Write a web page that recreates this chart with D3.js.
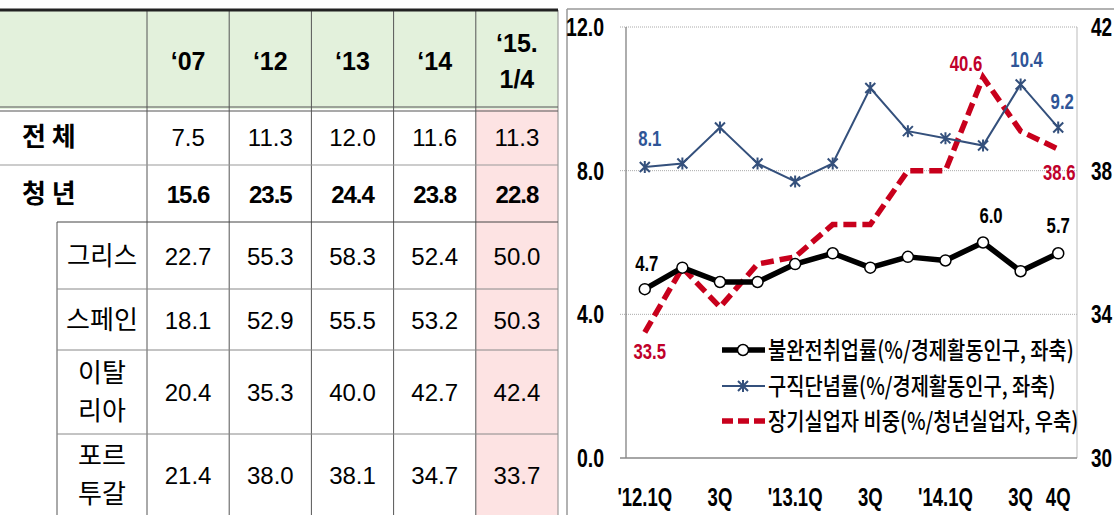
<!DOCTYPE html>
<html>
<head>
<meta charset="utf-8">
<script src="https://cdn.jsdelivr.net/npm/d3@7"></script>
<style>
body { margin: 0; background: #fff; }
svg { display: block; }
</style>
</head>
<body>
<div id="root"></div>
<script>
const width = 1114;
const height = 515;

// ---- table data
const tableCols = ["‘07", "‘12", "‘13", "‘14", "‘15.|1/4"];
const tableRows = ["전 체", "청 년", "그리스", "스페인", "이탈|리아", "포르|투갈"];
const totalRate = [7.5, 11.3, 12.0, 11.6, 11.3];
const youthRate = [15.6, 23.5, 24.4, 23.8, 22.8];
const greeceRate = [22.7, 55.3, 58.3, 52.4, 50.0];
const spainRate = [18.1, 52.9, 55.5, 53.2, 50.3];
const italyRate = [20.4, 35.3, 40.0, 42.7, 42.4];
const portugalRate = [21.4, 38.0, 38.1, 34.7, 33.7];

// ---- chart data
const quarters = ["'12.1Q", "'12.2Q", "'12.3Q", "'12.4Q", "'13.1Q", "'13.2Q",
                  "'13.3Q", "'13.4Q", "'14.1Q", "'14.2Q", "'14.3Q", "'14.4Q"];
const quarterLabels = ["'12.1Q", "", "3Q", "", "'13.1Q", "", "3Q", "", "'14.1Q", "", "3Q", "4Q"];
const underemployment = [4.7, 5.3, 4.9, 4.9, 5.4, 5.7, 5.3, 5.6, 5.5, 6.0, 5.2, 5.7];
const discouraged = [8.1, 8.2, 9.2, 8.2, 7.7, 8.2, 10.3, 9.1, 8.9, 8.7, 10.4, 9.2];
const longTermShare = [33.5, 35.3, 34.2, 35.4, 35.6, 36.5, 36.5, 38.0, 38.0, 40.6, 39.1, 38.6];
const leftTicks = [0, 4, 8, 12];
const rightTicks = [30, 34, 38, 42];
const legendNames = ["불완전취업률(%/경제활동인구, 좌축)", "구직단념률(%/경제활동인구, 좌축)", "장기실업자 비중(%/청년실업자, 우축)"];

const svg = d3.select("#root").append("svg")
	.attr("width", width)
	.attr("height", height);

// squeeze text horizontally, the source fonts are narrow
function condense(sel, k) {
	sel.each(function() {
		const len = this.getComputedTextLength();
		d3.select(this).attr("textLength", len * k).attr("lengthAdjust", "spacingAndGlyphs");
	});
}

// ================= TABLE =================
const tableRight = 558;
const rowEdges = [10, 109, 165, 222, 289, 350, 434, 515];
const indentX = 57;
const tableValues = [totalRate, youthRate, greeceRate, spainRate, italyRate, portugalRate];

const colX = d3.scaleBand()
	.domain(tableCols)
	.range([147, tableRight]);

const table = svg.append("g").attr("class", "table");

// fills
table.append("rect")
	.attr("x", 0).attr("y", rowEdges[0])
	.attr("width", tableRight).attr("height", rowEdges[1] - rowEdges[0])
	.style("fill", "#e3f1dc");
table.append("rect")
	.attr("x", colX(tableCols[4])).attr("y", rowEdges[1])
	.attr("width", colX.bandwidth()).attr("height", height - rowEdges[1])
	.style("fill", "#fde3e3");

// vertical lines
table.selectAll(".vline")
	.data(tableCols).enter()
	.append("line")
		.attr("x1", d => colX(d)).attr("x2", d => colX(d))
		.attr("y1", rowEdges[0]).attr("y2", height)
		.style("stroke", "#555").style("stroke-width", 1);
table.append("line")
	.attr("x1", tableRight).attr("x2", tableRight)
	.attr("y1", rowEdges[0]).attr("y2", height)
	.style("stroke", "#888").style("stroke-width", 1);
table.append("line")
	.attr("x1", indentX).attr("x2", indentX)
	.attr("y1", rowEdges[3]).attr("y2", height)
	.style("stroke", "#555").style("stroke-width", 1);

// horizontal lines
table.append("line")
	.attr("x1", 0).attr("x2", tableRight)
	.attr("y1", rowEdges[0]).attr("y2", rowEdges[0])
	.style("stroke", "#222").style("stroke-width", 3);
[rowEdges[1] - 2, rowEdges[1] + 2].forEach(y => {
	table.append("line")
		.attr("x1", 0).attr("x2", tableRight)
		.attr("y1", y).attr("y2", y)
		.style("stroke", "#555").style("stroke-width", 1.2);
});
table.append("line")
	.attr("x1", 0).attr("x2", tableRight)
	.attr("y1", rowEdges[2]).attr("y2", rowEdges[2])
	.style("stroke", "#999").style("stroke-width", 1);
rowEdges.slice(3, 7).forEach(y => {
	table.append("line")
		.attr("x1", indentX).attr("x2", tableRight)
		.attr("y1", y).attr("y2", y)
		.style("stroke", y === rowEdges[3] ? "#444" : "#888").style("stroke-width", 1);
});

// header texts
table.selectAll(".head")
	.data(tableCols).enter()
	.append("text")
		.attr("class", "head")
		.attr("text-anchor", "middle")
		.style("font-family", "'Liberation Sans', Arial, sans-serif")
		.style("font-weight", "bold")
		.style("font-size", "25px")
		.each(function(d) {
			const parts = d.split("|");
			const cx = colX(d) + colX.bandwidth() / 2;
			const y0 = parts.length > 1 ? 52 : 70;
			d3.select(this).selectAll("tspan")
				.data(parts).enter()
				.append("tspan")
					.attr("x", cx)
					.attr("y", (p, i) => y0 + i * 36)
					.text(p => p);
		});

// row labels
const rowMid = i => (rowEdges[i + 1] + rowEdges[i + 2]) / 2;
tableRows.forEach((name, i) => {
	const parts = name.split("|");
	const t = table.append("text")
		.style("font-family", "'Noto Sans CJK KR', sans-serif")
		.style("font-size", "26px")
		.style("font-weight", i < 2 ? "bold" : "normal")
		.attr("text-anchor", i < 2 ? "start" : "middle");
	const cx = i < 2 ? 22 : (indentX + 147) / 2;
	const y0 = rowMid(i) + 9 - (parts.length - 1) * 19;
	t.selectAll("tspan")
		.data(parts).enter()
		.append("tspan")
			.attr("x", cx)
			.attr("y", (p, j) => y0 + j * 38)
			.text(p => p);
	if (name === "그리스") t.attr("textLength", 70).attr("lengthAdjust", "spacingAndGlyphs");
});

// values
tableValues.forEach((vals, i) => {
	table.selectAll(`.val${i}`)
		.data(vals).enter()
		.append("text")
			.attr("x", (d, j) => colX(tableCols[j]) + colX.bandwidth() / 2)
			.attr("y", rowMid(i) + 9)
			.attr("text-anchor", "middle")
			.style("font-family", "'Liberation Sans', Arial, sans-serif")
			.style("font-size", "24px")
			.style("font-weight", i === 1 ? "bold" : "normal")
			.style("letter-spacing", i === 1 ? "-1px" : "0px")
			.text(d => d3.format(".1f")(d));
});

// ================= CHART =================
const plot = { left: 626, right: 1077, top: 27, bottom: 458 };

const x = d3.scalePoint()
	.domain(quarters)
	.range([plot.left, plot.right])
	.padding(0.5);
const yLeft = d3.scaleLinear().domain([0, 12]).range([plot.bottom, plot.top]);
const yRight = d3.scaleLinear().domain([30, 42]).range([plot.bottom, plot.top]);

const chart = svg.append("g").attr("class", "chart");

// outer frame
chart.append("line")
	.attr("x1", 567).attr("x2", width).attr("y1", 9).attr("y2", 9)
	.style("stroke", "#999").style("stroke-width", 1.5);
chart.append("line")
	.attr("x1", 567).attr("x2", 567).attr("y1", 9).attr("y2", height)
	.style("stroke", "#999").style("stroke-width", 1.5);

// grid
chart.selectAll(".grid")
	.data(leftTicks.filter(d => d > 0)).enter()
	.append("line")
		.attr("x1", plot.left - 6).attr("x2", plot.right)
		.attr("y1", d => yLeft(d)).attr("y2", d => yLeft(d))
		.style("stroke", "#aaa").style("stroke-width", 1)
		.style("stroke-dasharray", "1,1");
chart.append("line")
	.attr("x1", plot.right).attr("x2", plot.right)
	.attr("y1", plot.top).attr("y2", plot.bottom)
	.style("stroke", "#bbb").style("stroke-width", 1);
chart.append("line")
	.attr("x1", plot.left).attr("x2", plot.left)
	.attr("y1", plot.top).attr("y2", plot.bottom)
	.style("stroke", "#777").style("stroke-width", 1.2);
chart.append("line")
	.attr("x1", plot.left - 6).attr("x2", plot.right)
	.attr("y1", plot.bottom).attr("y2", plot.bottom)
	.style("stroke", "#888").style("stroke-width", 1.5);

const numFont = "'Liberation Sans', Arial, sans-serif";

// axis labels
chart.selectAll(".ylab")
	.data(leftTicks).enter()
	.append("text")
		.attr("x", 604)
		.attr("y", d => yLeft(d) + 9)
		.attr("text-anchor", "end")
		.style("font-family", numFont).style("font-weight", "bold").style("font-size", "25px")
		.text(d => d3.format(".1f")(d))
		.call(condense, 0.78);
chart.selectAll(".yrlab")
	.data(rightTicks).enter()
	.append("text")
		.attr("x", 1091)
		.attr("y", d => yRight(d) + 9)
		.style("font-family", numFont).style("font-weight", "bold").style("font-size", "25px")
		.text(d => d)
		.call(condense, 0.76);
chart.selectAll(".xlab")
	.data(quarters).enter()
	.append("text")
		.attr("x", d => x(d))
		.attr("y", 506)
		.attr("text-anchor", "middle")
		.style("font-family", numFont).style("font-weight", "bold").style("font-size", "25px")
		.text((d, i) => quarterLabels[i])
		.call(condense, 0.74);

// lines
const blue = "#34507c";
const red = "#c8001c";
const lineL = d3.line().x((d, i) => x(quarters[i])).y(d => yLeft(d));
const lineR = d3.line().x((d, i) => x(quarters[i])).y(d => yRight(d));

chart.append("path")
	.attr("d", lineR(longTermShare))
	.style("fill", "none").style("stroke", red).style("stroke-width", 5.5)
	.style("stroke-dasharray", "13,6");

chart.append("path")
	.attr("d", lineL(discouraged))
	.style("fill", "none").style("stroke", blue).style("stroke-width", 2);

const starPath = "M-5,-5L5,5M-5,5L5,-5M0,-6L0,6";
chart.selectAll(".star")
	.data(discouraged).enter()
	.append("path")
		.attr("d", starPath)
		.attr("transform", (d, i) => `translate(${x(quarters[i])},${yLeft(d)})`)
		.style("stroke", blue).style("stroke-width", 2).style("fill", "none");

chart.append("path")
	.attr("d", lineL(underemployment))
	.style("fill", "none").style("stroke", "#000").style("stroke-width", 5.5)
	.style("stroke-linejoin", "round");
chart.selectAll(".dot")
	.data(underemployment).enter()
	.append("circle")
		.attr("cx", (d, i) => x(quarters[i]))
		.attr("cy", d => yLeft(d))
		.attr("r", 5.5)
		.style("fill", "#fff").style("stroke", "#000").style("stroke-width", 1.5);

// data labels: [series, index, dx, dy]
const labelSpots = [
	["discouraged", 0, 5, -21], ["discouraged", 10, 6, -17], ["discouraged", 11, 4, -19],
	["under", 0, 2, -18], ["under", 9, 8, -20], ["under", 11, 0, -20],
	["long", 0, 5, 27], ["long", 9, -17, -6], ["long", 11, 1, 31]
];
const seriesMap = {
	discouraged: { vals: discouraged, y: yLeft, color: "#2f5597" },
	under: { vals: underemployment, y: yLeft, color: "#000" },
	long: { vals: longTermShare, y: yRight, color: "#c0002a" }
};
chart.selectAll(".dlab")
	.data(labelSpots).enter()
	.append("text")
		.attr("x", d => x(quarters[d[1]]) + d[2])
		.attr("y", d => seriesMap[d[0]].y(seriesMap[d[0]].vals[d[1]]) + d[3])
		.attr("text-anchor", "middle")
		.style("font-family", numFont).style("font-weight", "bold").style("font-size", "22px")
		.style("fill", d => seriesMap[d[0]].color)
		.text(d => d3.format(".1f")(seriesMap[d[0]].vals[d[1]]))
		.call(condense, 0.76);

// legend
const legendY = [350, 386, 421];
const legend = chart.append("g");
legend.append("line")
	.attr("x1", 722).attr("x2", 765).attr("y1", legendY[0]).attr("y2", legendY[0])
	.style("stroke", "#000").style("stroke-width", 5.5);
legend.append("circle")
	.attr("cx", 743).attr("cy", legendY[0]).attr("r", 5.5)
	.style("fill", "#fff").style("stroke", "#000").style("stroke-width", 1.5);
legend.append("line")
	.attr("x1", 722).attr("x2", 765).attr("y1", legendY[1]).attr("y2", legendY[1])
	.style("stroke", blue).style("stroke-width", 2);
legend.append("path")
	.attr("d", starPath)
	.attr("transform", `translate(743,${legendY[1]})`)
	.style("stroke", blue).style("stroke-width", 2);
legend.append("line")
	.attr("x1", 722).attr("x2", 765).attr("y1", legendY[2]).attr("y2", legendY[2])
	.style("stroke", red).style("stroke-width", 5.5).style("stroke-dasharray", "11,5");

legend.selectAll(".ltext")
	.data(legendNames).enter()
	.append("text")
		.attr("x", 768)
		.attr("y", (d, i) => legendY[i] + 9)
		.style("font-family", "'Noto Sans CJK KR', sans-serif")
		.style("font-size", "24px")
		.style("font-weight", "500")
		.text(d => d)
		.call(condense, 0.825);
</script>
</body>
</html>
